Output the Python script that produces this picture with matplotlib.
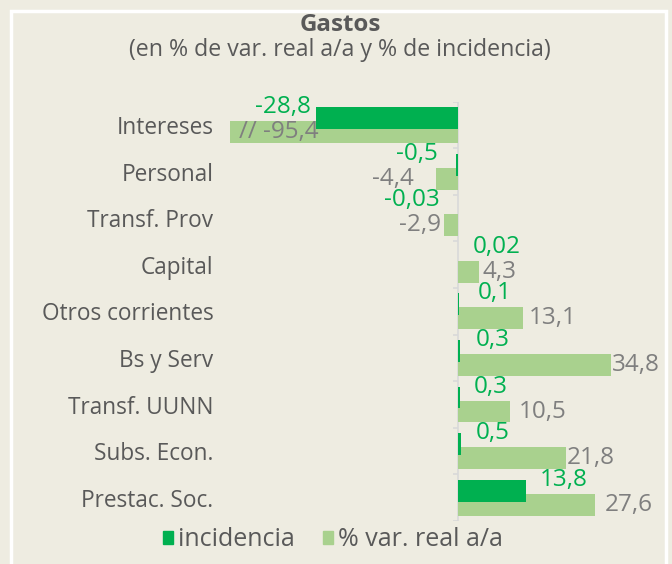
import matplotlib.pyplot as plt
from matplotlib.patches import Patch, Rectangle
from matplotlib.transforms import offset_copy

plt.rcParams["font.family"] = ["Open Sans", "DejaVu Sans"]

categories = ["Intereses", "Personal", "Transf. Prov", "Capital", "Otros corrientes",
              "Bs y Serv", "Transf. UUNN", "Subs. Econ.", "Prestac. Soc."]
incidencia = [-28.8, -0.5, -0.03, 0.02, 0.1, 0.3, 0.3, 0.5, 13.8]
var_real = [-95.4, -4.4, -2.9, 4.3, 13.1, 34.8, 10.5, 21.8, 27.6]

# gap (px) between bar end and its data label, as placed in the original
gap_var = [9, 22, 3, 3, 6, 1, 9, 1, 10]
gap_inc = [5, 18, 18, 15, 19, 16, 14, 15, 13]

BG = "#eeece1"
DARK = "#00b050"
LIGHT = "#a9d18e"
GRAY_TXT = "#7f7f7f"
CAT_TXT = "#595959"
AXIS = "#d9d9d9"

XMIN, XMAX = -46.1, 30.9
FS_CAT = 16.3
FS_VAL = 17.5


def fmt(v):
    return str(v).replace(".", ",")


fig = plt.figure(figsize=(6.72, 5.64), dpi=100, facecolor=BG)
ax = fig.add_axes([230 / 672, 1 - 521 / 564, (611 - 230) / 672, (521 - 101.7) / 564])
ax.set_facecolor(BG)

y = list(range(len(categories)))
off, h = 0.15, 0.47

ax.barh([i + off for i in y], var_real, height=h, color=LIGHT, zorder=2)
ax.barh([i - off for i in y], incidencia, height=h, color=DARK, zorder=3)

ax.set_xlim(XMIN, XMAX)
ax.set_ylim(len(categories) - 0.5, -0.5)

# value axis line and category separators
ax.axvline(0, color=AXIS, lw=1.2, zorder=1)
ax.hlines([i - 0.5 for i in range(len(categories) + 1)], -1.1, 0, color=AXIS, lw=1.2, zorder=1)

for s in ax.spines.values():
    s.set_visible(False)
ax.set_xticks([])
ax.set_yticks(y)
ax.set_yticklabels(categories, fontsize=FS_CAT, color=CAT_TXT)
ax.tick_params(axis="y", length=0, pad=12)

px = 72 / 100  # points per pixel

# labels for light bars (broken bar gets the label inside, after "//")
for i, v in enumerate(var_real):
    if v < XMIN:
        tr = offset_copy(ax.transData, fig=fig, x=gap_var[i] * px, y=0, units="points")
        ax.text(XMIN, i + off, "// " + fmt(v), transform=tr, ha="left", va="center",
                fontsize=FS_VAL, color=GRAY_TXT, zorder=5, clip_on=False)
        continue
    a = min(v, XMAX)
    d = gap_var[i] if v > 0 else -gap_var[i]
    tr = offset_copy(ax.transData, fig=fig, x=d * px, y=0, units="points")
    ax.text(a, i + off, fmt(v), transform=tr, ha="left" if v > 0 else "right",
            va="center", fontsize=FS_VAL, color=GRAY_TXT, zorder=5, clip_on=False)

# labels for dark bars, centred on the top edge of each bar
for i, v in enumerate(incidencia):
    d = gap_inc[i] if v > 0 else -gap_inc[i]
    tr = offset_copy(ax.transData, fig=fig, x=d * px, y=0, units="points")
    ax.text(v, i - off - h / 2, fmt(v), transform=tr, ha="left" if v > 0 else "right",
            va="center", fontsize=FS_VAL, color=DARK, zorder=5, clip_on=False)

fig.text(340 / 672, 1 - 25 / 564, "Gastos", ha="center", va="center",
         fontsize=17.4, fontweight="bold", color=CAT_TXT)
fig.text(340 / 672, 1 - 50 / 564, "(en % de var. real a/a y % de incidencia)",
         ha="center", va="center", fontsize=16.7, color=CAT_TXT)

handles = [Patch(color=DARK, label="incidencia"), Patch(color=LIGHT, label="% var. real a/a")]
fig.legend(handles=handles, loc="center", bbox_to_anchor=(333 / 672, 1 - 540 / 564), ncol=2,
           frameon=False, fontsize=18, handlelength=0.4, handleheight=0.4,
           handletextpad=0.2, columnspacing=1.1, labelcolor=CAT_TXT)

fig.patches.append(Rectangle((11 / 672, -0.1), 655 / 672, 1.1 - 11 / 564,
                             transform=fig.transFigure, fill=False, edgecolor="white", lw=2.5))

fig.savefig("out.png", dpi=100, facecolor=BG)
